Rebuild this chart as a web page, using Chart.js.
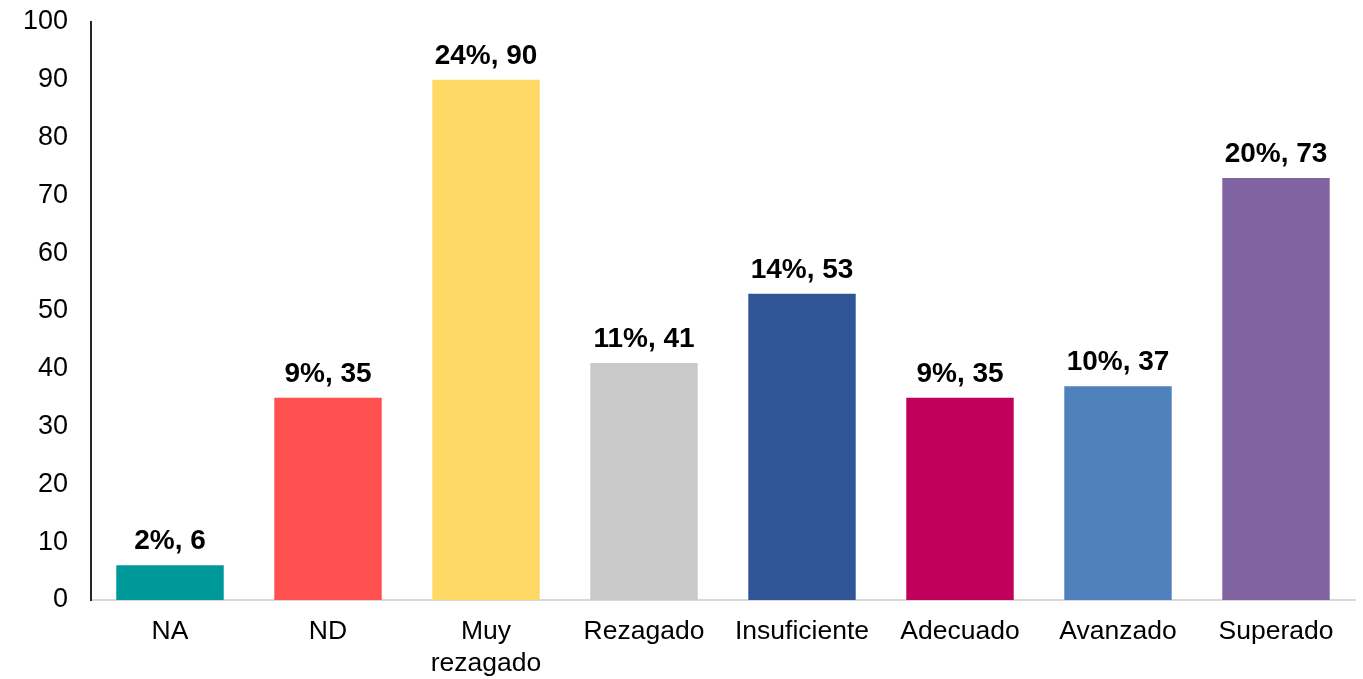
<!DOCTYPE html>
<html>
<head>
<meta charset="utf-8">
<script src="https://cdn.jsdelivr.net/npm/chart.js@4/dist/chart.umd.min.js"></script>
<style>
  html, body { margin: 0; padding: 0; background: #fff; }
  #wrap { width: 1363px; height: 679px; }
</style>
</head>
<body>
<div id="wrap"><canvas id="levelChart"></canvas></div>
<script>
// Categories and counts
const categories = ["NA", "ND", ["Muy", "rezagado"], "Rezagado", "Insuficiente", "Adecuado", "Avanzado", "Superado"];
const counts = [6, 35, 90, 41, 53, 35, 37, 73];
const shares = ["2%", "9%", "24%", "11%", "14%", "9%", "10%", "20%"];
const barColors = ["#009999", "#FF5050", "#FFD966", "#C9C9C9", "#2F5597", "#C0005A", "#4F81BD", "#8064A2"];

// Draws "share, count" above each bar
const topLabels = {
  id: "topLabels",
  afterDatasetsDraw(chart) {
    const ctx = chart.ctx;
    const meta = chart.getDatasetMeta(0);
    ctx.save();
    ctx.font = "bold 28px 'Liberation Sans', Arial, sans-serif";
    ctx.fillStyle = "#000";
    ctx.textAlign = "center";
    ctx.textBaseline = "alphabetic";
    meta.data.forEach((bar, i) => {
      ctx.fillText(shares[i] + ", " + counts[i], bar.x, bar.y - 16);
    });
    ctx.restore();
  }
};

new Chart(document.getElementById("levelChart"), {
  type: "bar",
  data: {
    labels: categories,
    datasets: [{
      data: counts,
      backgroundColor: barColors,
      categoryPercentage: 1,
      barPercentage: 0.68
    }]
  },
  options: {
    responsive: true,
    maintainAspectRatio: false,
    animation: false,
    layout: { padding: { top: 22, right: 8, left: 0, bottom: 0 } },
    plugins: {
      legend: { display: false },
      tooltip: { enabled: false }
    },
    scales: {
      x: {
        grid: { display: false, drawTicks: false },
        border: { color: "#D9D9D9", width: 2 },
        ticks: {
          color: "#000",
          font: { family: "'Liberation Sans', Arial, sans-serif", size: 26.5, lineHeight: 1.2 },
          padding: 16,
          maxRotation: 0,
          autoSkip: false
        },
        afterFit(scale) { scale.height = 79; }
      },
      y: {
        min: 0,
        max: 100,
        grid: { display: false, drawTicks: false },
        border: { color: "#262626", width: 2 },
        ticks: {
          stepSize: 10,
          color: "#000",
          font: { family: "'Liberation Sans', Arial, sans-serif", size: 27 },
          padding: 23
        },
        afterFit(scale) {
          scale.width = 91;
          // let the layout padding decide the top edge
          scale.paddingTop = 0;
          scale.paddingBottom = 0;
        }
      }
    }
  },
  plugins: [topLabels]
});
</script>
</body>
</html>
